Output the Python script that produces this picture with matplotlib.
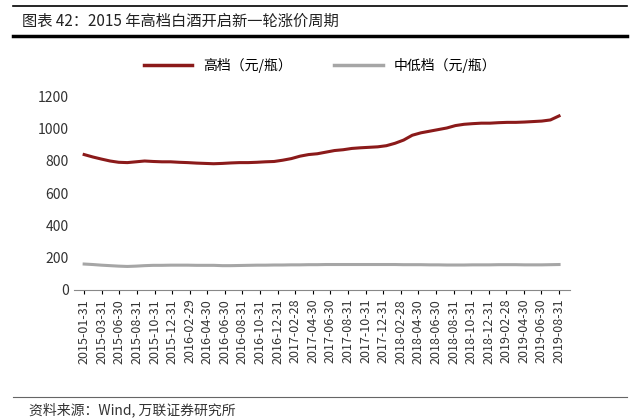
import numpy as np
import matplotlib.pyplot as plt
import matplotlib.lines as mlines

plt.rcParams['font.family'] = ['Noto Sans CJK SC', 'DejaVu Sans']

# monthly series, 2015-01 .. 2019-08
high_end = [840, 825, 812, 800, 792, 790, 795, 800, 797, 795, 795, 792,
            790, 787, 785, 783, 785, 788, 790, 790, 792, 795, 797, 805,
            815, 830, 840, 845, 855, 865, 870, 878, 882, 885, 888, 895,
            910, 930, 960, 975, 985, 995, 1005, 1020, 1028, 1032, 1035, 1035,
            1038, 1040, 1040, 1042, 1045, 1048, 1055, 1080]
mid_low = [160, 157, 153, 150, 147, 145, 147, 150, 152, 152, 153, 153,
           153, 152, 152, 152, 150, 150, 151, 152, 153, 153, 154, 154,
           155, 155, 156, 156, 157, 157, 157, 157, 157, 157, 157, 157,
           157, 156, 156, 156, 155, 155, 154, 154, 154, 155, 155, 155,
           156, 156, 156, 155, 155, 155, 156, 157]
tick_labels = ["2015-01-31", "2015-03-31", "2015-06-30", "2015-08-31", "2015-10-31", "2015-12-31",
               "2016-02-29", "2016-04-30", "2016-06-30", "2016-08-31", "2016-10-31", "2016-12-31",
               "2017-02-28", "2017-04-30", "2017-06-30", "2017-08-31", "2017-10-31", "2017-12-31",
               "2018-02-28", "2018-04-30", "2018-06-30", "2018-08-31", "2018-10-31", "2018-12-31",
               "2019-02-28", "2019-04-30", "2019-06-30", "2019-08-31"]

# the source axis is categorical: labels are evenly spaced
x = np.linspace(0, len(tick_labels) - 1, len(high_end))

fig = plt.figure(figsize=(6.4, 4.2), dpi=100)
ax = fig.add_axes([0.115, 0.31, 0.775, 0.46])

ax.plot(x, high_end, color='#8b1a1a', lw=2.2)
ax.plot(x, mid_low, color='#a6a6a6', lw=2.2)

ax.set_ylim(0, 1200)
ax.set_yticks(range(0, 1201, 200))
ax.set_xlim(-0.6, len(tick_labels) - 0.4)
ax.set_xticks(range(len(tick_labels)))
ax.set_xticklabels(tick_labels, rotation=90, fontsize=9, color='#333333')
ax.tick_params(axis='y', labelsize=10, colors='#333333', length=0)
ax.tick_params(axis='x', length=3)
for s in ['top', 'right', 'left']:
    ax.spines[s].set_visible(False)
ax.spines['bottom'].set_color('#888888')

# title band
fig.add_artist(mlines.Line2D([0.02, 0.98], [0.985, 0.985], color='black', lw=1.2))
fig.add_artist(mlines.Line2D([0.02, 0.98], [0.915, 0.915], color='black', lw=2.5))
fig.text(0.035, 0.95, "图表 42：2015 年高档白酒开启新一轮涨价周期", fontsize=11,
         va='center', color='#222222')

h1 = mlines.Line2D([], [], color='#8b1a1a', lw=2.5)
h2 = mlines.Line2D([], [], color='#a6a6a6', lw=2.5)
fig.legend([h1, h2], ["高档（元/瓶）", "中低档（元/瓶）"], loc='center',
           bbox_to_anchor=(0.5, 0.845), ncol=2, frameon=False, fontsize=10,
           handlelength=3.5, columnspacing=3)

fig.add_artist(mlines.Line2D([0.02, 0.98], [0.055, 0.055], color='#666666', lw=0.8))
fig.text(0.045, 0.025, "资料来源：Wind, 万联证券研究所", fontsize=10, style='italic',
         va='center', color='#333333')

fig.savefig('out.png')
